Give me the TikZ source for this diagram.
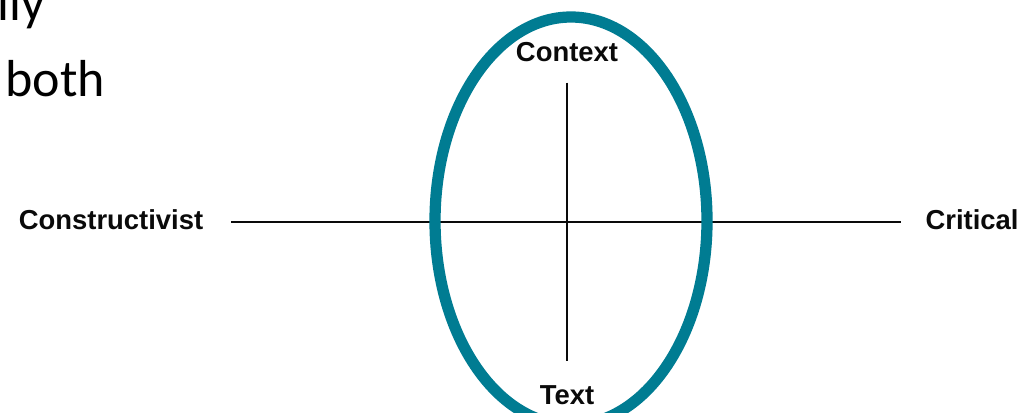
\documentclass[tikz,border=0pt]{standalone}
\usepackage{fontspec}
\usepackage{xcolor}
\usepackage{tikz}
\usetikzlibrary{positioning, calc}
\newfontfamily\labelfont{Liberation Sans}
\newfontfamily\slidefont{Carlito}
\definecolor{myteal}{RGB}{0,124,146}
\definecolor{mydark}{RGB}{10,10,10}
\tikzset{
  axislabel/.style={inner sep=0pt, anchor=base,
    font=\labelfont\bfseries\fontsize{19.5}{22}\selectfont, text=mydark},
  slidetext/.style={inner sep=0pt, anchor=base west,
    font=\slidefont\fontsize{37}{44}\selectfont, text=black},
  axisline/.style={line width=1.6pt, color=mydark},
  lens/.style={draw=myteal, line width=8pt}
}
\begin{document}
\begin{tikzpicture}[x=0.025cm, y=-0.025cm]
  \path[use as bounding box, clip] (0,0) rectangle (1023,413);
  \fill[white] (0,0) rectangle (1023,413);

  % Slide text cut off at the left
  \node[slidetext] (line_a) at (-3,21) {lly};
  \node[slidetext] (line_b) at (5,97) {both};

  % Axis labels
  \node[axislabel] (constructivist) at (111,229) {Constructivist};
  \node[axislabel] (critical) at (972,229) {Critical};
  \node[axislabel] (context) at (567,62) {Context};
  \node[axislabel] (text) at (567,404) {Text};

  % Axes
  \draw[axisline, shorten <=0.7cm, shorten >=0.6cm] ($(constructivist.east)+(0,3)$) -- ($(critical.west)+(0,3)$);
  \draw[axisline, line width=1.9pt, shorten <=0.5cm, shorten >=0.6cm] (context.south) -- (text.north);

  % Ellipse round the vertical axis
  \draw[lens] (571,221) ellipse [x radius=136, y radius=204];
\end{tikzpicture}
\end{document}
